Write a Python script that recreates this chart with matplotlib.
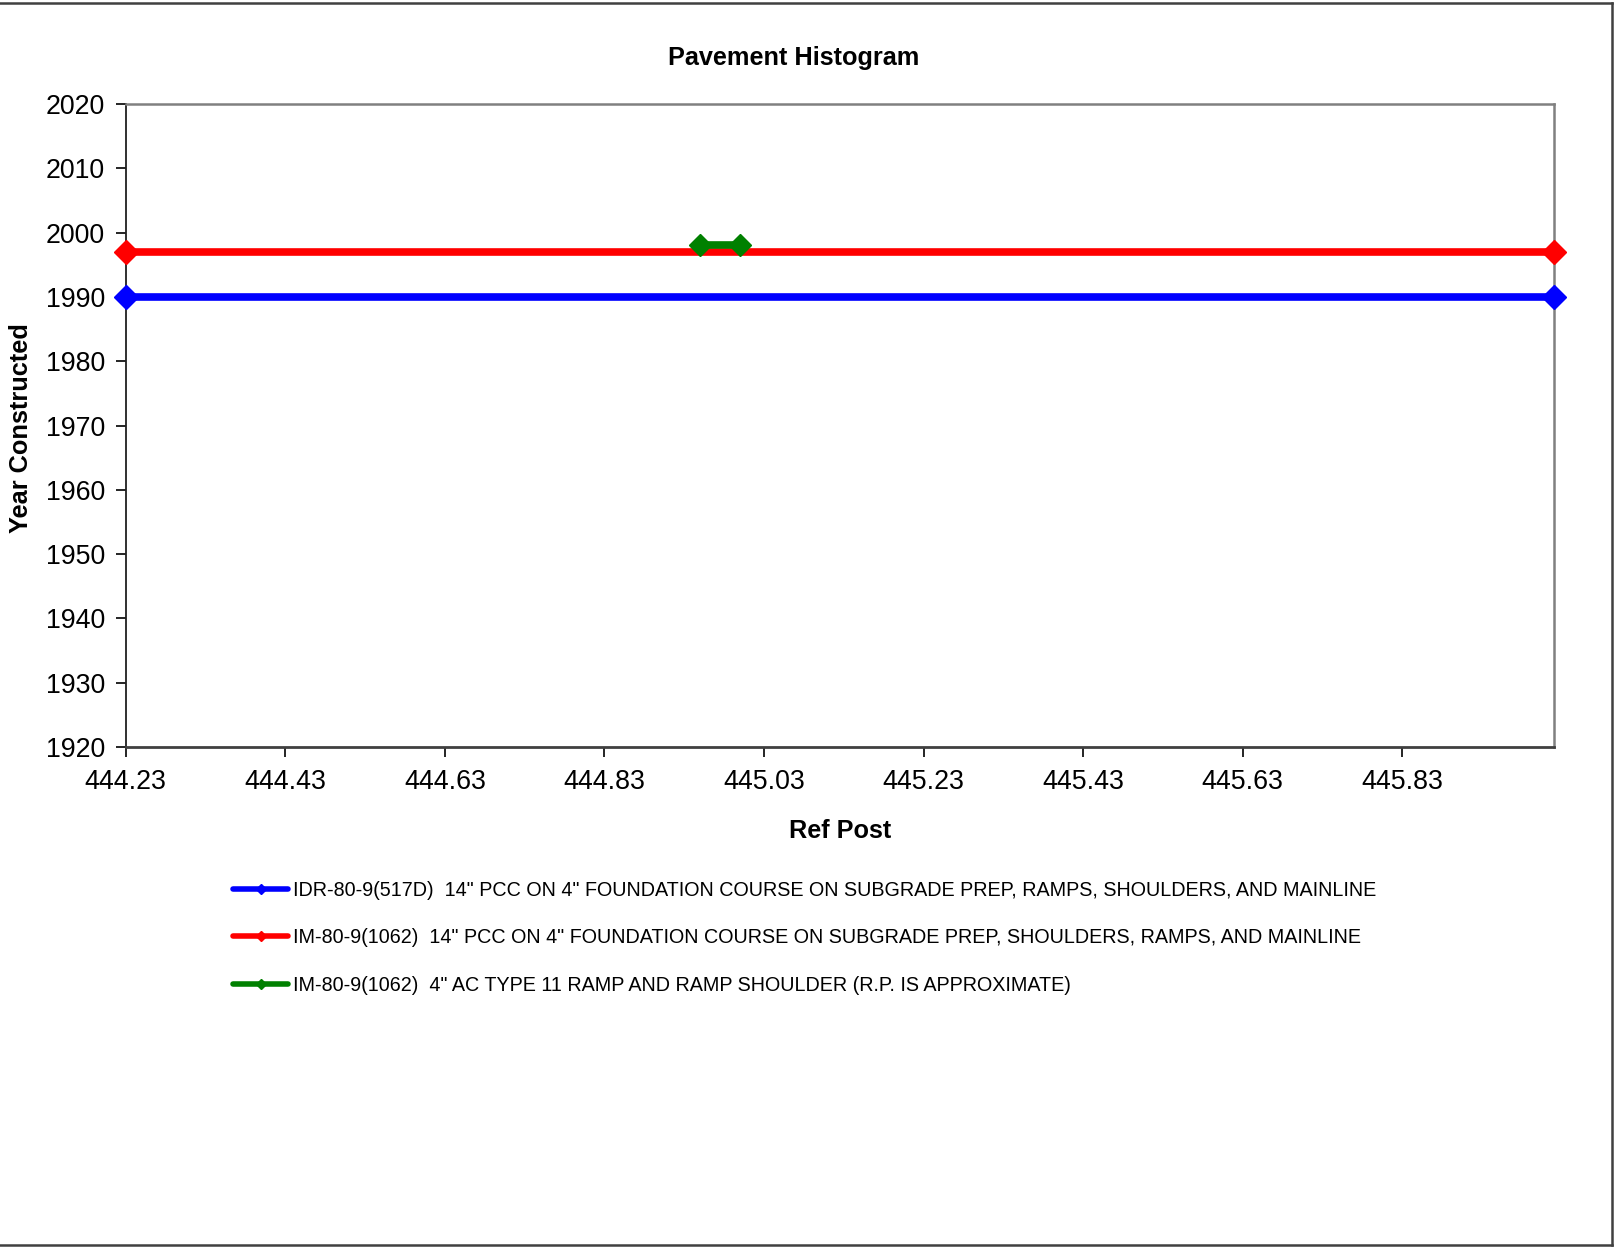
import matplotlib
matplotlib.use("Agg")
import matplotlib.pyplot as plt
from matplotlib.lines import Line2D
import numpy as np

plt.rcParams['font.family'] = ['Liberation Sans', 'DejaVu Sans']

# Series: reference post ranges and year constructed
blue_x = [444.23, 446.02]
blue_y = [1990, 1990]
red_x = [444.23, 446.02]
red_y = [1997, 1997]
green_x = [444.95, 445.00]
green_y = [1998, 1998]

labels = [
    'IDR-80-9(517D)  14" PCC ON 4" FOUNDATION COURSE ON SUBGRADE PREP, RAMPS, SHOULDERS, AND MAINLINE',
    'IM-80-9(1062)  14" PCC ON 4" FOUNDATION COURSE ON SUBGRADE PREP, SHOULDERS, RAMPS, AND MAINLINE',
    'IM-80-9(1062)  4" AC TYPE 11 RAMP AND RAMP SHOULDER (R.P. IS APPROXIMATE)',
]
colors = ['#0000FF', '#FF0000', '#008000']

x_ticks = [444.23, 444.43, 444.63, 444.83, 445.03, 445.23, 445.43, 445.63, 445.83]
y_ticks = [1920, 1930, 1940, 1950, 1960, 1970, 1980, 1990, 2000, 2010, 2020]

W, H = 1616, 1250
fig = plt.figure(figsize=(W / 100, H / 100), dpi=100)
ax = fig.add_axes([125.7 / W, 1 - 747 / H, (1554 - 125.7) / W, (747 - 104) / H])

ax.plot(blue_x, blue_y, color=colors[0], lw=5.5, marker='D', ms=12.5,
        clip_on=False, zorder=3)
ax.plot(red_x, red_y, color=colors[1], lw=5.5, marker='D', ms=12.5,
        clip_on=False, zorder=3)
ax.plot(green_x, green_y, color=colors[2], lw=5.5, marker='D', ms=11.5,
        clip_on=False, zorder=4)

ax.set_xlim(444.23, 446.02)
ax.set_ylim(1920, 2020)
ax.set_xticks(x_ticks)
ax.set_xticklabels([f'{v:.2f}' for v in x_ticks])
ax.set_yticks(y_ticks)

ax.tick_params(axis='both', labelsize=19.3, colors='black', direction='out',
               length=7, width=1.2)
ax.tick_params(axis='y', pad=8)
ax.tick_params(axis='x', pad=9)

for side in ['top', 'right']:
    ax.spines[side].set_color('#808080')
    ax.spines[side].set_linewidth(1.8)
ax.spines['left'].set_color('#202020')
ax.spines['left'].set_linewidth(1.3)
ax.spines['bottom'].set_color('#404040')
ax.spines['bottom'].set_linewidth(2.0)

fig.text(793.6 / W, 1 - 58.5 / H, 'Pavement Histogram', ha='center', va='center',
         fontsize=18.2, fontweight='bold')
fig.text(840 / W, 1 - 831.5 / H, 'Ref Post', ha='center', va='center',
         fontsize=18.2, fontweight='bold')
fig.text(20.6 / W, 1 - 427.7 / H, 'Year Constructed', ha='center', va='center',
         rotation=90, fontsize=18.3, fontweight='bold')

handles = [Line2D([], [], color=c, lw=4, marker='D', ms=5,
                  solid_capstyle='round') for c in colors]
fig.legend(handles, labels, loc='upper left',
           bbox_to_anchor=(233 / W, 1 - 881 / H), frameon=False,
           fontsize=14.2, handlelength=2.8, handletextpad=0.25,
           labelspacing=1.44, borderpad=0, borderaxespad=0, numpoints=1)

# Outer chart border
border = dict(color='#404040', lw=1.8, transform=fig.transFigure, clip_on=False)
fig.add_artist(Line2D([0, 1612 / W], [1 - 3 / H, 1 - 3 / H], **border))
fig.add_artist(Line2D([1612 / W, 1612 / W], [1 - 3 / H, 1 - 1245 / H], **border))
fig.add_artist(Line2D([0, 1612 / W], [1 - 1245 / H, 1 - 1245 / H], **border))

fig.savefig('out.png', dpi=100, facecolor='white')
